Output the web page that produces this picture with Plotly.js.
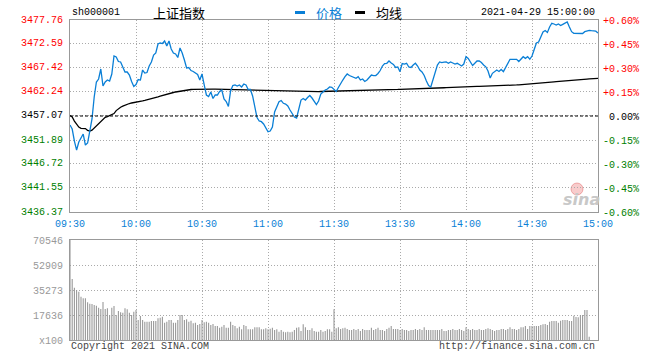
<!DOCTYPE html>
<html><head><meta charset="utf-8">
<script src="https://cdn.plot.ly/plotly-3.0.1.min.js"></script>
<style>html,body{margin:0;padding:0;background:#fff}#chart{width:660px;height:360px}</style>
</head><body><div id="chart"></div>
<script>
const symbol = 'sh000001';
const indexName = '上证指数';
const stamp = '2021-04-29 15:00:00';
const seriesNames = ['价格', '均线'];
const prevClose = 3457.07;
const timeLabels = ['09:30','10:00','10:30','11:00','11:30','13:30','14:00','14:30','15:00'];
const priceTicks = [3436.37,3441.55,3446.72,3451.89,3457.07,3462.24,3467.42,3472.59,3477.76];
const pctTicks = [-0.60,-0.45,-0.30,-0.15,0,0.15,0.30,0.45,0.60];
const volTicks = [0,17636,35273,52909,70546];
const volTickText = ['x100','17636','35273','52909','70546'];

const price = [
3455.12,3454.26,3451.67,3449.73,3451.46,3452.32,3453.18,3450.81,3451.24,3453.83,
3456.42,3461.16,3464.39,3465.04,3467.20,3463.53,3464.39,3464.82,3464.61,3466.12,
3470.00,3469.78,3468.81,3468.71,3467.41,3466.55,3466.55,3465.90,3464.50,3463.42,
3463.85,3464.93,3464.82,3466.98,3466.33,3466.44,3467.84,3468.71,3470.21,3470.65,
3472.59,3472.80,3472.69,3473.23,3472.15,3473.23,3471.51,3470.65,3470.43,3469.68,
3471.72,3470.65,3469.14,3467.41,3467.52,3466.87,3466.66,3466.33,3466.01,3464.82,
3466.12,3463.75,3461.59,3461.27,3462.24,3460.84,3461.59,3461.59,3462.35,3462.67,
3460.73,3460.19,3459.11,3462.45,3463.64,3463.75,3463.53,3463.75,3463.32,3463.96,
3463.75,3462.78,3462.78,3461.38,3459.22,3456.74,3455.99,3455.84,3455.34,3454.37,
3453.68,3453.83,3454.69,3457.93,3459.07,3460.15,3460.40,3459.80,3459.65,3459.22,
3458.36,3457.50,3456.85,3456.63,3458.36,3460.51,3460.84,3460.51,3461.05,3461.48,
3460.94,3460.30,3459.54,3460.30,3461.81,3462.24,3462.67,3462.88,3463.32,3463.25,
3462.88,3462.35,3463.21,3464.11,3464.82,3465.54,3466.12,3465.79,3465.54,3465.26,
3465.19,3465.54,3464.82,3465.04,3464.50,3464.82,3465.36,3465.90,3465.79,3465.79,
3466.23,3466.87,3467.84,3468.38,3468.43,3468.92,3468.49,3468.17,3467.52,3467.63,
3466.62,3468.38,3468.27,3468.43,3467.63,3467.52,3468.06,3468.43,3467.84,3466.98,
3466.55,3465.79,3464.61,3463.64,3463.32,3464.82,3466.62,3468.06,3468.71,3468.56,
3468.66,3468.71,3468.43,3468.71,3468.49,3468.27,3468.43,3468.06,3467.84,3468.27,
3469.85,3469.46,3468.71,3467.95,3468.43,3468.92,3468.92,3468.60,3468.06,3467.67,
3466.77,3465.26,3466.27,3466.62,3466.98,3466.66,3467.09,3466.62,3467.63,3468.27,
3469.29,3469.29,3469.24,3469.29,3468.81,3469.35,3469.85,3469.50,3469.85,3469.29,
3470.00,3471.40,3472.80,3473.02,3474.20,3475.17,3475.50,3475.07,3476.25,3477.05,
3476.90,3476.68,3476.90,3476.57,3476.83,3477.05,3477.33,3476.25,3475.24,3474.89,
3474.89,3474.74,3474.85,3474.85,3475.24,3475.45,3475.54,3475.45,3475.45,3475.35,
3474.96
];

const avgPrice = [
3457.17,3456.85,3455.98,3455.23,3454.69,3454.41,3454.41,3454.35,3453.94,3453.83,
3454.00,3454.48,3454.91,3455.45,3455.88,3456.42,3456.78,3456.93,3457.21,3457.41,
3457.60,3458.23,3458.68,3458.96,3459.18,3459.43,3459.59,3459.76,3459.87,3459.93,
3460.02,3460.10,3460.21,3460.32,3460.43,3460.53,3460.66,3460.79,3460.92,3461.05,
3461.18,3461.33,3461.48,3461.65,3461.81,3461.91,3462.02,3462.13,3462.24,3462.34,
3462.43,3462.52,3462.58,3462.67,3462.71,3462.78,3462.82,3462.84,3462.84,3462.86,
3462.88,3462.88,3462.87,3462.87,3462.86,3462.85,3462.84,3462.83,3462.82,3462.81,
3462.80,3462.79,3462.78,3462.77,3462.76,3462.73,3462.72,3462.71,3462.70,3462.69,
3462.67,3462.66,3462.65,3462.63,3462.62,3462.61,3462.59,3462.58,3462.56,3462.55,
3462.51,3462.49,3462.47,3462.45,3462.43,3462.41,3462.39,3462.37,3462.35,3462.35,
3462.33,3462.33,3462.32,3462.32,3462.32,3462.32,3462.32,3462.32,3462.32,3462.33,
3462.33,3462.33,3462.34,3462.34,3462.35,3462.36,3462.37,3462.38,3462.38,3462.39,
3462.40,3462.41,3462.42,3462.42,3462.43,3462.44,3462.45,3462.46,3462.46,3462.47,
3462.48,3462.49,3462.50,3462.51,3462.52,3462.52,3462.54,3462.56,3462.58,3462.60,
3462.62,3462.64,3462.66,3462.68,3462.70,3462.72,3462.74,3462.76,3462.78,3462.79,
3462.82,3462.83,3462.85,3462.86,3462.88,3462.89,3462.91,3462.92,3462.93,3462.95,
3462.96,3462.98,3462.99,3463.01,3463.02,3463.03,3463.06,3463.08,3463.10,3463.13,
3463.15,3463.17,3463.20,3463.22,3463.24,3463.27,3463.29,3463.31,3463.33,3463.36,
3463.38,3463.39,3463.40,3463.41,3463.42,3463.43,3463.44,3463.45,3463.46,3463.47,
3463.48,3463.49,3463.50,3463.51,3463.52,3463.53,3463.56,3463.59,3463.62,3463.65,
3463.68,3463.70,3463.73,3463.76,3463.79,3463.82,3463.84,3463.87,3463.90,3463.93,
3463.96,3464.00,3464.05,3464.10,3464.14,3464.19,3464.24,3464.28,3464.33,3464.38,
3464.42,3464.47,3464.52,3464.56,3464.61,3464.66,3464.69,3464.73,3464.76,3464.80,
3464.84,3464.87,3464.91,3464.94,3464.98,3465.02,3465.05,3465.09,3465.12,3465.16,
3465.19
];

const volume = [
70546,43030,36900,35270,34100,30550,29400,29400,26580,25630,
25400,24690,24220,22800,21870,26810,21870,22350,17640,22800,
23990,17640,20460,19540,19300,22350,21650,19300,17640,19970,
21160,14110,16930,14110,12930,12930,12930,13400,13400,13400,
15290,15760,16460,12230,12930,14110,14110,12230,12230,14110,
17640,17640,14110,14580,12930,13640,11760,12230,10580,11290,
14110,12470,12930,12230,10580,11290,9880,9880,8700,9410,
10580,8700,8700,12930,10580,9880,8250,9410,7530,10580,
9880,7530,7530,7530,8930,8930,8930,7530,7530,8250,
7530,8000,8700,7050,7530,5880,7050,5880,5410,5880,
5410,5880,7050,8700,8930,6350,11060,8930,7050,7050,
8250,6350,5880,5880,7050,5880,6350,7530,7530,5880,
21660,8250,8960,7760,8250,8700,7760,7050,7050,7760,
7050,7760,6350,7760,7050,7050,7050,8700,7050,7760,
8700,7050,7050,6350,7760,8700,9880,7760,7760,7760,
7050,7760,7050,7050,6350,7050,7050,7760,7050,7760,
7050,8960,7050,7050,7050,7050,7050,7050,7050,7760,
6350,6350,7050,7050,7760,7050,7050,7760,7050,6350,
8960,7760,7050,7760,7050,7050,7760,7050,7050,7760,
8250,7760,7050,6350,7050,7050,7760,7760,7050,7760,
8960,7760,7760,7050,7760,8960,8960,9880,7760,9880,
9880,9880,9880,9880,10580,11060,11290,10580,12930,13400,
13400,13400,12230,13640,14110,14110,14110,13400,13400,17170,
16230,16000,17640,17640,21160,21160,2350,0,0,0,
0
];

// ---- build ----
const minute = price.map((_, i) => i);
const lastMin = minute[minute.length - 1];
const tickMinutes = timeLabels.map((_, k) => k * 30);
const pctOf = p => (p / prevClose - 1) * 100;

const RED = '#ff0000', GREEN = '#008000', BLUE = '#0a7fd6', GRAY = '#999999';
const MONO = 'Liberation Mono, DejaVu Sans Mono, monospace';
const colorFor = d => d > 0 ? RED : (d < 0 ? GREEN : '#000000');

const pctTickText = pctTicks.map(p => {
  const s = p > 0 ? '+' + p.toFixed(2) + '%' : (p < 0 ? p.toFixed(2) + '%' : '\u00a00.00%');
  return `<span style="color:${colorFor(p)}">${s}</span>`;
});

const W = 660, H = 360;
const px = x => x / W, py = y => 1 - y / H;
const xDom = [px(70), px(598)];

const traces = [
  { type: 'bar', x: minute, y: volume, xaxis: 'x2', yaxis: 'y3', width: 0.5,
    marker: { color: GRAY, line: { width: 0 } }, hoverinfo: 'skip', showlegend: false },
  { type: 'scatter', mode: 'lines', x: [minute[0], lastMin], y: [pctOf(prevClose), pctOf(prevClose)],
    xaxis: 'x', yaxis: 'y2', line: { color: '#000', width: 1, dash: '3px,2px' },
    hoverinfo: 'skip', showlegend: false },
  { type: 'scatter', mode: 'lines', name: seriesNames[1], x: minute, y: avgPrice,
    xaxis: 'x', yaxis: 'y', line: { color: '#000', width: 1.3 }, hoverinfo: 'skip', showlegend: false },
  { type: 'scatter', mode: 'lines', name: seriesNames[0], x: minute, y: price,
    xaxis: 'x', yaxis: 'y', line: { color: BLUE, width: 1.3 }, hoverinfo: 'skip', showlegend: false }
];

const gridCommon = { showgrid: true, gridcolor: '#aaaaaa', griddash: '1px,2px', gridwidth: 1,
  zeroline: false, showline: true, linecolor: GRAY, linewidth: 1, mirror: true, ticks: '' };

// coloured price labels on the left, anchored to the price axis
const priceLabelAnn = priceTicks.map(v => ({
  text: v.toFixed(2), xref: 'paper', yref: 'y', x: px(65), y: v, xanchor: 'right', yanchor: 'middle',
  showarrow: false, font: { family: MONO, size: 10, color: colorFor(Math.round((v - prevClose) * 100)) }
}));

const layout = {
  width: W, height: H, autosize: false,
  margin: { l: 0, r: 0, t: 0, b: 0, pad: 0 },
  paper_bgcolor: '#fff', plot_bgcolor: '#fff',
  showlegend: false,
  xaxis: Object.assign({}, gridCommon, {
    domain: xDom, anchor: 'y', range: [0, lastMin],
    tickmode: 'array', tickvals: tickMinutes, ticktext: timeLabels,
    tickfont: { family: MONO, size: 10, color: BLUE }, ticklabelstandoff: 2
  }),
  yaxis: Object.assign({}, gridCommon, {
    domain: [py(212), py(20)], anchor: 'x',
    range: [priceTicks[0], priceTicks[priceTicks.length - 1]],
    tickmode: 'array', tickvals: priceTicks, showticklabels: false
  }),
  yaxis2: {
    overlaying: 'y', side: 'right', anchor: 'x',
    range: [pctTicks[0], pctTicks[pctTicks.length - 1]],
    tickmode: 'array', tickvals: pctTicks, ticktext: pctTickText,
    showgrid: false, zeroline: false, showline: false, ticks: '',
    tickfont: { family: MONO, size: 10, color: '#000' }, ticklabelstandoff: 4
  },
  xaxis2: Object.assign({}, gridCommon, {
    domain: xDom, anchor: 'y3', range: [0, lastMin],
    tickmode: 'array', tickvals: tickMinutes, showticklabels: false
  }),
  yaxis3: Object.assign({}, gridCommon, {
    domain: [py(340), py(240)], anchor: 'x2',
    range: [volTicks[0], volTicks[volTicks.length - 1]],
    tickmode: 'array', tickvals: volTicks, ticktext: volTickText,
    tickfont: { family: MONO, size: 10, color: GRAY }, ticklabelstandoff: 4
  }),
  shapes: [
    { type: 'line', xref: 'paper', yref: 'paper', x0: px(295), x1: px(305), y0: py(12.5), y1: py(12.5),
      line: { color: BLUE, width: 3 } },
    { type: 'line', xref: 'paper', yref: 'paper', x0: px(355), x1: px(365), y0: py(12.5), y1: py(12.5),
      line: { color: '#000', width: 3 } },
    { type: 'circle', xref: 'paper', yref: 'paper', x0: px(571), x1: px(583), y0: py(195), y1: py(183),
      fillcolor: 'rgba(235,110,110,0.35)', line: { color: 'rgba(225,90,90,0.45)', width: 1 }, layer: 'below' }
  ],
  annotations: priceLabelAnn.concat([
    { text: symbol, xref: 'paper', yref: 'paper', x: px(70), y: py(13), xanchor: 'left', yanchor: 'middle',
      showarrow: false, font: { family: MONO, size: 10, color: '#000' } },
    { text: indexName, xref: 'paper', yref: 'paper', x: px(151), y: py(12.5), xanchor: 'left', yanchor: 'middle',
      showarrow: false, font: { family: 'Noto Sans CJK SC', size: 13, color: '#000' } },
    { text: seriesNames[0], xref: 'paper', yref: 'paper', x: px(314), y: py(12.5), xanchor: 'left', yanchor: 'middle',
      showarrow: false, font: { family: 'Noto Sans CJK SC', size: 13, color: BLUE } },
    { text: seriesNames[1], xref: 'paper', yref: 'paper', x: px(374), y: py(12.5), xanchor: 'left', yanchor: 'middle',
      showarrow: false, font: { family: 'Noto Sans CJK SC', size: 13, color: '#000' } },
    { text: stamp, xref: 'paper', yref: 'paper', x: px(597), y: py(13), xanchor: 'right', yanchor: 'middle',
      showarrow: false, font: { family: MONO, size: 10, color: '#000' } },
    { text: 'Copyright 2021 SINA.COM', xref: 'paper', yref: 'paper', x: px(69), y: py(346), xanchor: 'left', yanchor: 'middle',
      showarrow: false, font: { family: MONO, size: 10, color: '#444' } },
    { text: 'http://finance.sina.com.cn', xref: 'paper', yref: 'paper', x: px(597), y: py(346), xanchor: 'right', yanchor: 'middle',
      showarrow: false, font: { family: MONO, size: 10, color: '#444' } },
    { text: '<b><i>sina</i></b>', xref: 'paper', yref: 'paper', x: px(581), y: py(199), xanchor: 'center', yanchor: 'middle',
      showarrow: false, font: { family: 'DejaVu Sans', size: 16, color: '#c8c8c8' } }
  ])
};

Plotly.newPlot('chart', traces, layout, { staticPlot: true, displayModeBar: false });
</script>
</body></html>
